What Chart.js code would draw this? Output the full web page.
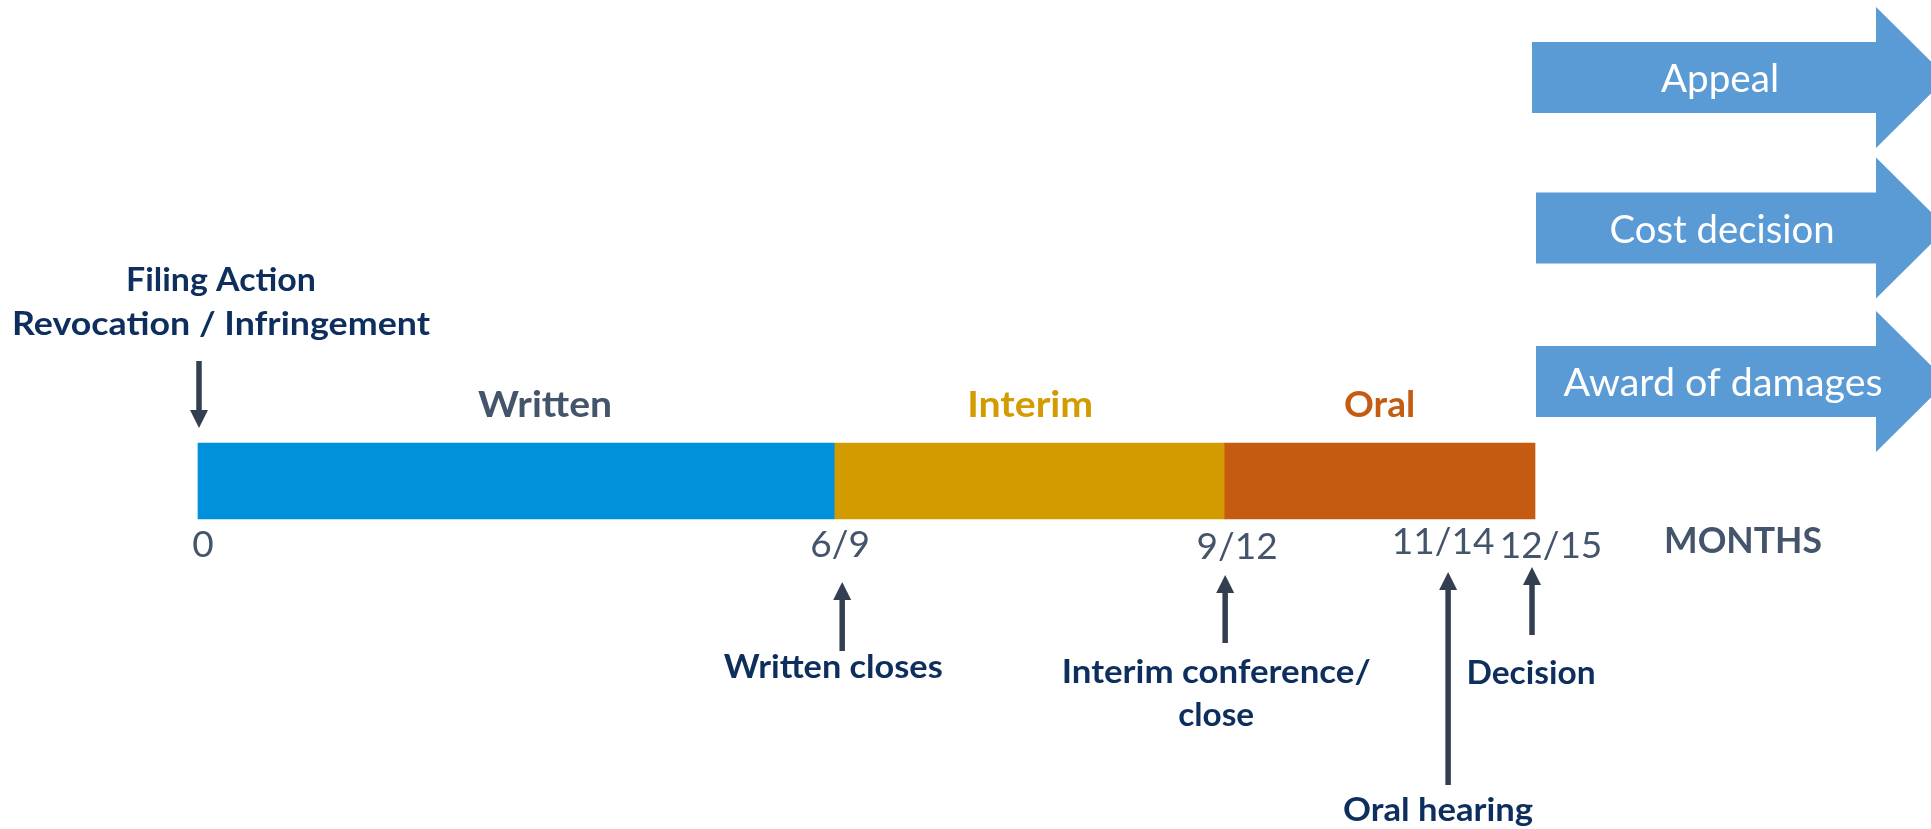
<!DOCTYPE html>
<html><head><meta charset="utf-8">
<script src="https://cdn.jsdelivr.net/npm/chart.js@4/dist/chart.umd.min.js"></script>
<style>html,body{margin:0;padding:0;background:#fff;overflow:hidden}#wrap{width:1931px;height:829px}</style>
</head><body><div id="wrap"><canvas id="c" width="1931" height="829"></canvas></div>
<script>
// ---------- data ----------
const stageNames = ['Written', 'Interim', 'Oral'];
const stageStart = [0, 5.71, 9.21];
const stageEnd = [5.71, 9.21, 12.0];
const milestoneLabels = ['0', '6/9', '9/12', '11/14', '12/15'];
const milestoneValues = [0, 5.71, 9.21, 11.22, 12.0];
const eventLabels = [['Filing Action', 'Revocation / Infringement'], ['Written closes'], ['Interim conference/', 'close'], ['Oral hearing'], ['Decision']];
const followUps = ['Appeal', 'Cost decision', 'Award of damages'];
const followUpStart = [12, 12, 12];
const unitLabel = 'MONTHS';

// ---------- styles ----------
const stageColors = ['#0091DA', '#D39B00', '#C55A11'];
const stageLabelColors = ['#44546A', '#D39B00', '#C55A11'];
const navy = '#0E2F5E';
const arrowColor = '#333F50';
const blockColor = '#5B9BD5';
const FONT = 'Lato, "Open Sans", sans-serif';

// pixel layout (offsets relative to timeline bar centre / milestone pixel)
const eventLayout = [
  {ax: 1, tx: 23, lines: [-190, -146], w: [190, 418], from: -120, tip: -53},
  {ax: 8, tx: -1, lines: [197], w: [219], from: 170, tip: 101},
  {ax: 1, tx: -8, lines: [202, 245], w: [309, 76], from: 162, tip: 94},
  {ax: 0, tx: -10, lines: [340], w: [190], from: 304, tip: 91},
  {ax: -3, tx: -4, lines: [203], w: [129], from: 154, tip: 86}
];
const stageLabelLayout = [{dx: 29, w: 134}, {dx: 1, w: 126}, {dx: 0, w: 71}];
const followLayout = [{dy: -403.5, bx: -3, tx: 185, w: 118}, {dy: -253, bx: 1, tx: 187, w: 225}, {dy: -99.5, bx: 1, tx: 188, w: 319}];
const tickNudgeX = [5, 6, 13, -5, 16];
const tickNudgeY = [0, 0, 2, -3, 1];

function fitText(ctx, s, cx, y, w) {
  const m = ctx.measureText(s).width;
  ctx.save();
  ctx.translate(cx, y);
  ctx.scale(w / m, 1);
  ctx.fillText(s, 0, 0);
  ctx.restore();
}

function drawArrow(ctx, x, yFrom, yTip) {
  const dir = yTip > yFrom ? 1 : -1;
  const headLen = 18, headHalf = 9;
  ctx.save();
  ctx.strokeStyle = arrowColor; ctx.fillStyle = arrowColor;
  ctx.lineWidth = 5.5;
  ctx.beginPath(); ctx.moveTo(x, yFrom); ctx.lineTo(x, yTip - dir * headLen + dir * 2); ctx.stroke();
  ctx.beginPath();
  ctx.moveTo(x, yTip);
  ctx.lineTo(x - headHalf, yTip - dir * headLen);
  ctx.lineTo(x + headHalf, yTip - dir * headLen);
  ctx.closePath(); ctx.fill();
  ctx.restore();
}

const tickNudge = {
  id: 'tickNudge',
  beforeDraw(chart) {
    const items = chart.scales.x.getLabelItems();
    if (items && !items._nudged) {
      items.forEach((it, i) => {
        it.options.translation[0] += tickNudgeX[i] || 0;
        it.options.translation[1] += tickNudgeY[i] || 0;
      });
      items._nudged = true;
    }
  }
};

const annot = {
  id: 'annot',
  afterDatasetsDraw(chart) {
    const ctx = chart.ctx;
    const xs = chart.scales.x, ys = chart.scales.y;
    const y0 = ys.getPixelForValue(0);
    ctx.save();
    ctx.textAlign = 'center';
    ctx.textBaseline = 'alphabetic';
    // stage names above the bar
    ctx.font = 'bold 36px ' + FONT;
    stageNames.forEach((n, i) => {
      const L = stageLabelLayout[i];
      const cx = xs.getPixelForValue((stageStart[i] + stageEnd[i]) / 2) + L.dx;
      ctx.fillStyle = stageLabelColors[i];
      fitText(ctx, n, cx, y0 - 64, L.w);
    });
    // unit label
    ctx.fillStyle = '#44546A';
    fitText(ctx, unitLabel, xs.getPixelForValue(milestoneValues[milestoneValues.length - 1]) + 208, y0 + 72, 158);
    // events with arrows
    ctx.font = 'bold 32px ' + FONT;
    eventLabels.forEach((lines, i) => {
      const L = eventLayout[i];
      const x = xs.getPixelForValue(milestoneValues[i]);
      drawArrow(ctx, x + L.ax, y0 + L.from, y0 + L.tip);
      ctx.fillStyle = navy;
      lines.forEach((s, k) => fitText(ctx, s, x + L.tx, y0 + L.lines[k], L.w[k]));
    });
    // follow-up block arrows
    ctx.font = '38px ' + FONT;
    followUps.forEach((s, i) => {
      const L = followLayout[i];
      const cy = y0 + L.dy;
      const xb = xs.getPixelForValue(followUpStart[i]);
      const x0 = xb + L.bx;
      const hx = xb + 341, tip = hx + 71;
      ctx.fillStyle = blockColor;
      ctx.beginPath();
      ctx.moveTo(x0, cy - 35.5);
      ctx.lineTo(hx, cy - 35.5);
      ctx.lineTo(hx, cy - 70.5);
      ctx.lineTo(tip, cy);
      ctx.lineTo(hx, cy + 70.5);
      ctx.lineTo(hx, cy + 35.5);
      ctx.lineTo(x0, cy + 35.5);
      ctx.closePath(); ctx.fill();
      ctx.fillStyle = '#FFFFFF';
      fitText(ctx, s, xb + L.tx, cy + 14.5, L.w);
    });
    ctx.restore();
  }
};

function build() {
  const datasets = stageNames.map((n, i) => ({
    label: n,
    data: [[stageStart[i], stageEnd[i]]],
    backgroundColor: stageColors[i],
    borderWidth: 0,
    barThickness: 76,
    grouped: false
  }));
  new Chart(document.getElementById('c'), {
    type: 'bar',
    data: {labels: ['Timeline'], datasets},
    options: {
      indexAxis: 'y', responsive: false, animation: false,
      layout: {padding: {top: 133, left: 0, right: 0, bottom: 0}},
      plugins: {legend: {display: false}, tooltip: {enabled: false}},
      scales: {
        x: {
          type: 'linear', min: -1.777, max: 15.554, position: {y: 0},
          grid: {display: false, drawTicks: false}, border: {display: false},
          afterBuildTicks: axis => { axis.ticks = milestoneValues.map(v => ({value: v})); },
          ticks: {autoSkip: false, maxRotation: 0, minRotation: 0, padding: 42, color: '#44546A',
                  font: {family: FONT, size: 37}, callback: (v, i) => milestoneLabels[i]}
        },
        y: {display: false}
      }
    },
    plugins: [tickNudge, annot]
  });
}
const fl = document.fonts ? Promise.all([document.fonts.load('bold 36px Lato'), document.fonts.load('36px Lato')]) : Promise.resolve();
Promise.race([fl, new Promise(r => setTimeout(r, 500))]).then(build, build);
</script></body></html>
